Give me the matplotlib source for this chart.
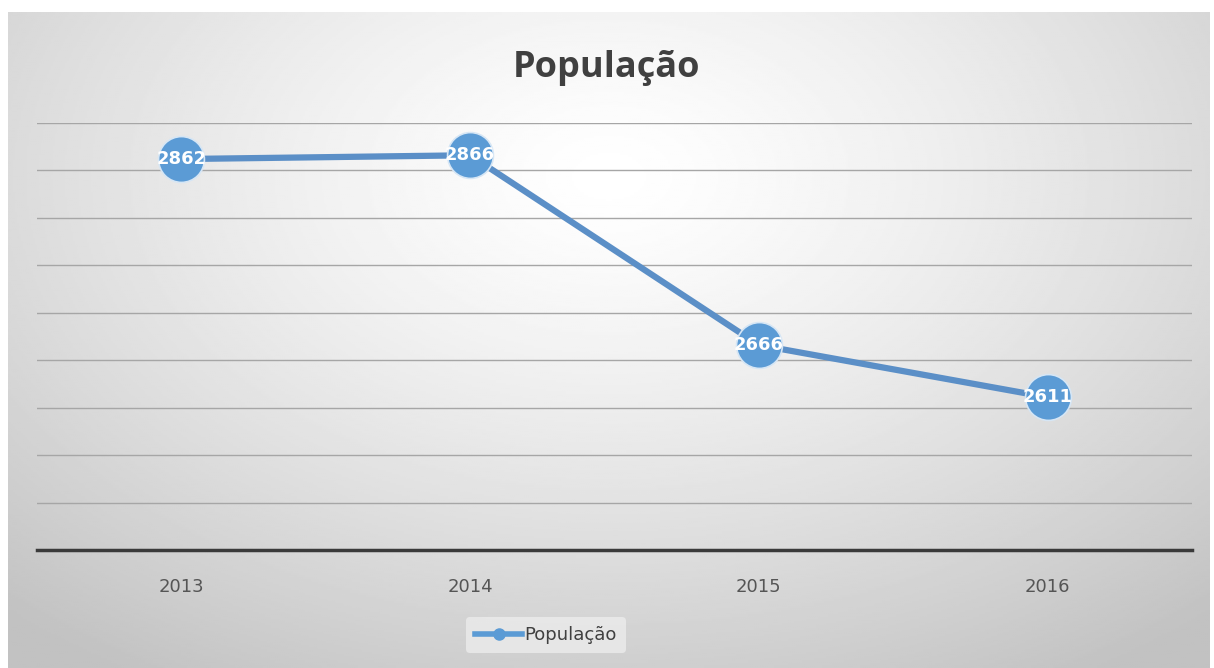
import numpy as np
import matplotlib.pyplot as plt

# dados
anos = ['2013', '2014', '2015', '2016']
populacao = [2862, 2866, 2666, 2611]

W, H = 1214, 668
fig = plt.figure(figsize=(W / 100, H / 100), dpi=100)
fig.patch.set_facecolor('white')

# fundo com gradiente radial (estilo Excel)
bg = fig.add_axes([8 / W, 0, 1202 / W, 656 / H])
yy, xx = np.mgrid[0:1:300j, 0:1:600j]
d = np.sqrt(((xx - 0.5) / 0.75) ** 2 + ((yy - 0.75) / 0.9) ** 2)
d = np.clip(d, 0, 1)
shade = 1.0 - 0.24 * d ** 1.3
bg.imshow(shade, cmap='gray', vmin=0, vmax=1, aspect='auto',
          extent=[0, 1, 0, 1], origin='lower')
bg.set_axis_off()
bg.set_zorder(0)

# área do gráfico
ax = fig.add_axes([37 / W, (H - 550) / H, 1155 / W, 427 / H])
ax.set_zorder(1)
ax.patch.set_alpha(0)

x = np.arange(len(anos))
cor = '#5b9bd5'
ax.plot(x, populacao, color='#5b8fc7', linewidth=4.5, zorder=3,
        solid_capstyle='round')
ax.plot(x, populacao, linestyle='none', marker='o', markersize=33,
        markerfacecolor=cor, markeredgecolor='#d6e6f5', markeredgewidth=1.2,
        zorder=4)
for xi, v in zip(x, populacao):
    ax.text(xi, v, str(v), color='white', ha='center', va='center',
            fontsize=13, fontweight='bold', family='Liberation Sans Narrow',
            zorder=5)

ax.set_xlim(-0.5, 3.5)
ax.set_ylim(2450, 2900)
ax.set_yticks(np.arange(2500, 2901, 50))
ax.yaxis.grid(True, color='#a6a6a6', linewidth=1)
ax.set_axisbelow(True)
ax.tick_params(axis='y', left=False, labelleft=False)
ax.set_xticks(x)
ax.set_xticklabels(anos, fontsize=13, color='#555555',
                   family='Liberation Sans Narrow')
ax.tick_params(axis='x', length=0, pad=20)
for s in ['top', 'right', 'left']:
    ax.spines[s].set_visible(False)
ax.spines['bottom'].set_color('#3a3a3a')
ax.spines['bottom'].set_linewidth(2.5)

fig.text(0.5, 1 - 68 / H, 'População', ha='center', va='center',
         fontsize=26, fontweight='bold', color='#404040', family='Open Sans')

# legenda
leg_ax = fig.add_axes([376 / W, (H - 660) / H, 340 / W, 50 / H])
leg_ax.set_axis_off()
leg = leg_ax.legend(
    handles=[plt.Line2D([], [], color=cor, linewidth=4, marker='o',
                        markersize=8)],
    labels=['População'], loc='center', frameon=True, fontsize=13,
    handlelength=2.6, handletextpad=0.1, borderpad=0.5,
    prop={'family': 'Liberation Sans Narrow', 'size': 13})
leg.get_frame().set_facecolor('#ececec')
leg.get_frame().set_edgecolor('none')
leg.get_frame().set_alpha(0.8)
for t in leg.get_texts():
    t.set_color('#404040')

fig.savefig('out.png', dpi=100, facecolor='white')
